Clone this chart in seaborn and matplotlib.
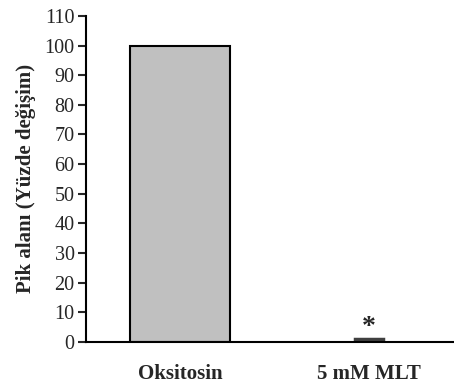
import matplotlib.pyplot as plt
import seaborn as sns
import pandas as pd

groups = ["Oksitosin", "5 mM MLT"]
values = [100, 1.0]
bar_colors = ["#c0c0c0", "#404040"]
y_ticks = list(range(0, 111, 10))

sns.set_theme(style="white")
plt.rcParams['font.family'] = ['Liberation Serif', 'DejaVu Serif']

df = pd.DataFrame({"grup": groups, "deger": values})

fig = plt.figure(figsize=(4.54, 3.88), dpi=100)
ax = fig.add_axes([0.189, 0.119, 0.811, 0.84])

sns.barplot(data=df, x="grup", y="deger", hue="grup", palette=bar_colors,
            legend=False, width=0.53, edgecolor="black", linewidth=1.5, ax=ax)

# second bar is drawn narrower in the original
p = ax.patches[1]
cx = p.get_x() + p.get_width() / 2
p.set_width(0.15)
p.set_x(cx - 0.075)
p.set_edgecolor("#404040")
p.set_linewidth(2.5)

ax.text(1, values[1] - 0.5, "*", ha="center", va="bottom", fontsize=20,
        fontweight="bold")

ax.set_xlim(-0.5, 1.45)
ax.set_ylim(0, 110)
ax.set_yticks(y_ticks)
ax.set_xlabel("")
ax.set_ylabel("Pik alanı (Yüzde değişim)", fontsize=15, fontweight="bold",
              labelpad=6)
ax.tick_params(axis="y", direction="out", length=6, width=1.5, labelsize=14.5,
               left=True, pad=2)
ax.tick_params(axis="x", length=0, labelsize=15, pad=16)
for lab in ax.get_xticklabels():
    lab.set_fontweight("bold")

sns.despine(ax=ax)
for s in ["left", "bottom"]:
    ax.spines[s].set_linewidth(1.5)
    ax.spines[s].set_color("black")

plt.savefig("out.png", dpi=100)
